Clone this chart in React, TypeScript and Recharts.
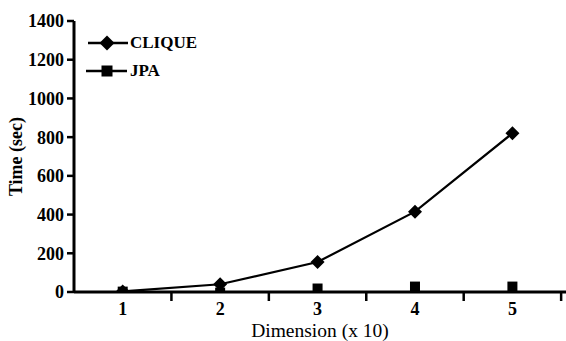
import React from 'react';
import { LineChart, Line, XAxis, YAxis } from 'recharts';

const dimensions = [1, 2, 3, 4, 5];
const cliqueTimes = [3, 40, 155, 415, 820];
const jpaTimes = [2, -3, 18, 28, 28];
const yTicks = [0, 200, 400, 600, 800, 1000, 1200, 1400];
const xTicks = [1, 1.5, 2, 2.5, 3, 3.5, 4, 4.5, 5, 5.5];

const data = dimensions.map((d, i) => ({ dim: d, clique: cliqueTimes[i], jpa: jpaTimes[i] }));

const FONT = '"Liberation Serif", "Times New Roman", serif';

const Diamond = (props: any) => {
  const { cx, cy } = props;
  if (cx == null || cy == null) return null;
  return <path d={`M${cx},${cy - 7} L${cx + 7},${cy} L${cx},${cy + 7} L${cx - 7},${cy} Z`} fill="#000" />;
};

const Square = (props: any) => {
  const { cx, cy } = props;
  if (cx == null || cy == null) return null;
  return <rect x={cx - 5} y={cy - 5} width={10} height={10} fill="#000" />;
};

// integers get a label, halves get a tick mark
const XTick = (props: any) => {
  const { x, y, payload } = props;
  const v = payload.value;
  if (Number.isInteger(v)) {
    return (
      <text x={x} y={y + 15} textAnchor="middle" fontFamily={FONT} fontWeight="bold" fontSize={18} fill="#000">
        {v}
      </text>
    );
  }
  return <line x1={x} x2={x} y1={y - 8} y2={y + 1} stroke="#000" strokeWidth={2.5} />;
};

const YLabel = (props: any) => {
  const { viewBox } = props;
  const cy = viewBox.y + viewBox.height / 2;
  return (
    <text x={22} y={cy} transform={`rotate(-90 22 ${cy})`} textAnchor="middle" fontFamily={FONT} fontWeight="bold" fontSize={18} fill="#000">
      Time (sec)
    </text>
  );
};

export default function App() {
  return (
    <div style={{ position: 'absolute', left: 0, top: 0, width: 566, height: 341, background: '#fff' }}>
      <LineChart width={566} height={341} data={data} margin={{ top: 21, right: 0, bottom: 0, left: 0 }}>
        <XAxis
          dataKey="dim"
          type="number"
          domain={[0.5, 5.55]}
          ticks={xTicks}
          interval={0}
          allowDataOverflow
          tickLine={false}
          tick={<XTick />}
          axisLine={{ stroke: '#000', strokeWidth: 3 }}
          height={49}
          label={{ value: 'Dimension (x 10)', position: 'insideBottom', offset: 4, fill: '#000', fontFamily: FONT, fontSize: 19.5 }}
        />
        <YAxis
          domain={[0, 1400]}
          ticks={yTicks}
          allowDataOverflow
          width={74}
          tickSize={7}
          tickMargin={3}
          tickLine={{ stroke: '#000', strokeWidth: 2.5 }}
          axisLine={{ stroke: '#000', strokeWidth: 3 }}
          tick={{ fill: '#000', fontFamily: FONT, fontWeight: 'bold', fontSize: 18 }}
          label={<YLabel />}
        />
        <Line dataKey="clique" name="CLIQUE" stroke="#000" strokeWidth={2.2} dot={<Diamond />} isAnimationActive={false} />
        <Line dataKey="jpa" name="JPA" stroke="none" dot={<Square />} isAnimationActive={false} />
      </LineChart>
      <svg width={140} height={50} style={{ position: 'absolute', left: 84, top: 29 }}>
        <line x1={4} x2={44} y1={14} y2={14} stroke="#000" strokeWidth={2.4} />
        <path d="M23,6.5 L30.5,14 L23,21.5 L15.5,14 Z" fill="#000" />
        <text x={46} y={19} fontFamily={FONT} fontWeight="bold" fontSize={17} fill="#000">CLIQUE</text>
        <line x1={2} x2={43} y1={42} y2={42} stroke="#000" strokeWidth={2.4} />
        <rect x={17.5} y={36.5} width={11} height={11} fill="#000" />
        <text x={46} y={47} fontFamily={FONT} fontWeight="bold" fontSize={17} fill="#000">JPA</text>
      </svg>
    </div>
  );
}
